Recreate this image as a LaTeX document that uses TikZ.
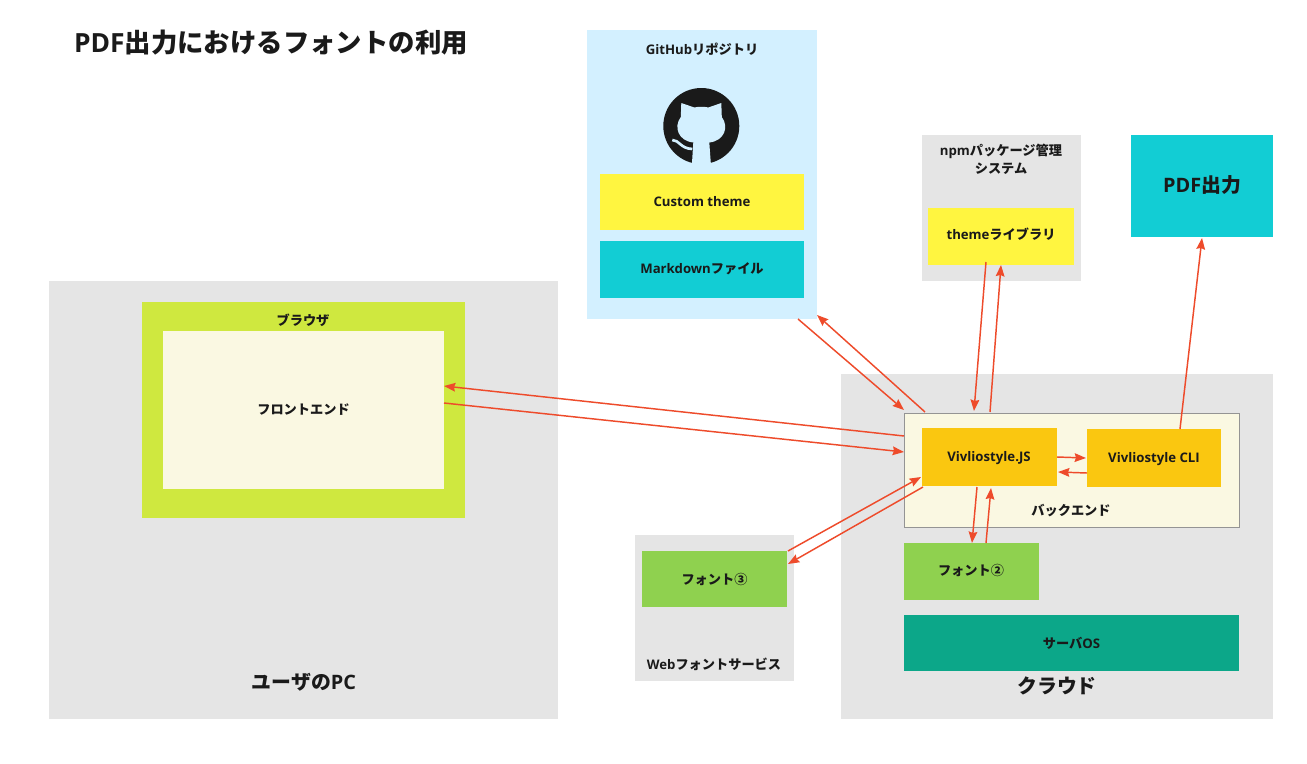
\documentclass[tikz,border=0pt]{standalone}
\usepackage{fontspec}
\usetikzlibrary{calc,arrows.meta}
\setmainfont{Open Sans}[BoldFont={Open Sans Bold}]
\newfontfamily\jp{Noto Sans CJK JP Bold}
\definecolor{panelgray}{HTML}{E5E5E5}
\definecolor{skyblue}{HTML}{D3F0FF}
\definecolor{sunyellow}{HTML}{FFF540}
\definecolor{teal1}{HTML}{12CDD4}
\definecolor{lime1}{HTML}{CFE83F}
\definecolor{cream}{HTML}{FAF8E2}
\definecolor{amber}{HTML}{FAC710}
\definecolor{leaf}{HTML}{8FD14F}
\definecolor{seagreen}{HTML}{0CA789}
\definecolor{ink}{HTML}{1A1A1A}
\definecolor{arrowred}{HTML}{EE4B2B}
\newcommand{\J}[1]{{\jp #1}}
\tikzset{
  x=0.75pt,y=-0.75pt,
  box/.style={draw=none,inner sep=0pt,outer sep=0pt},
  lab/.style={inner sep=0pt,outer sep=0pt,text=ink,font=\bfseries\fontsize{9.9pt}{12pt}\selectfont,align=center},
  big/.style={font=\bfseries\fontsize{14.9pt}{18pt}\selectfont},
  link/.style={draw=arrowred,line width=1.1pt,-{Stealth[length=8.5pt,width=6.5pt,inset=1pt]}},
}
\newcommand{\bx}[7][]{%
  \node[box,fill=#6,minimum width=#4*0.75pt-#2*0.75pt,minimum height=#5*0.75pt-#3*0.75pt,anchor=north west,#1] (#7) at (#2,#3) {};}
\begin{document}
\begin{tikzpicture}
\useasboundingbox (0,0) rectangle (1307,764);
\path[fill=white] (0,0) rectangle (1307,764);
\bx{587}{30}{817}{319}{skyblue}{gh}
\bx{600}{174}{804}{230}{sunyellow}{custom}
\bx{600}{241}{804}{298}{teal1}{md}
\bx{922}{135}{1081}{281}{panelgray}{npm}
\bx{928}{208}{1074}{265}{sunyellow}{theme}
\bx{1131}{135}{1273}{237}{teal1}{pdf}
\bx{49}{281}{558}{719}{panelgray}{pc}
\bx{142}{302}{465}{518}{lime1}{browser}
\bx{163}{331}{444}{489}{cream}{front}
\bx{841}{374}{1273}{719}{panelgray}{cloud}
\bx[draw=black!42,line width=0.75pt]{904}{413}{1239}{527}{cream}{back}
\bx{922}{428}{1057}{486}{amber}{js}
\bx{1087}{429}{1221}{487}{amber}{cli}
\bx{904}{543}{1039}{600}{leaf}{fonttwo}
\bx{904}{615}{1239}{671}{seagreen}{os}
\bx{635}{535}{794}{681}{panelgray}{web}
\bx{642}{551}{787}{607}{leaf}{fontthree}
% texts
\node[lab,anchor=west,font=\bfseries\fontsize{19.8pt}{24pt}\selectfont] (title) at (74,43) {PDF\J{出力における}\J{フォントの利用}};
\node[lab] (ghl) at (702,49) {GitHub\J{リポジトリ}};
\node[lab] at (custom.center) (customl) {Custom theme};
\node[lab] at ($(md.center)+(0,-1)$) (mdl) {Markdown\J{ファイル}};
\node[lab] (npml) at (1001,159.5) {npm\J{パッケージ管理}\\[1.5pt]\J{システム}};
\node[lab] at ($(theme.center)+(0,-2)$) (themel) {theme\J{ライブラリ}};
\node[lab,big] at ($(pdf.center)+(0,-1)$) (pdfl) {PDF\J{出力}};
\node[lab,big] (pcl) at (304,682) {\J{ユーザの}PC};
\node[lab] (brl) at (303,320) {\J{ブラウザ}};
\node[lab] at (front.center) (frl) {\J{フロントエンド}};
\node[lab,big] (cll) at (1057,686) {\J{クラウド}};
\node[lab] (bkl) at (1071,511) {\J{バックエンド}};
\node[lab] (jsl) at (989,458) {Vivliostyle.JS};
\node[lab] (clil) at (1154,459) {Vivliostyle CLI};
\node[lab] (f2l) at (971,570) {\J{フォント②}};
\node[lab] at (os.center) (osl) {\J{サーバ}OS};
\node[lab] (webl) at (714,664) {Web\J{フォントサービス}};
\node[lab] at (fontthree.center) (f3l) {\J{フォント③}};
% logo
\begin{scope}[shift={(701.3,126)}]
\fill[ink] (0,0) circle (38);
\fill[skyblue] (-20,-23) -- (-20.5,-9) .. controls (-28,1) and (-23,15) .. (-8,16.5)
  -- (-9.5,40) -- (9.7,40) -- (8,16.5)
  .. controls (23,15) and (28,1) .. (20.5,-9) -- (20,-23) -- (7,-18.5) .. controls (3,-19.5) and (-3,-19.5) .. (-7,-18.5) -- cycle;
\draw[skyblue,line width=2pt] (-29,14) .. controls (-22,14) and (-21,22.5) .. (-9,23);
\end{scope}
% connectors
\draw[link] ($(gh.south west)+(211,0)$) -- ($(back.north west)+(0,-3)$);
\draw[link] ($(back.north west)+(21,-1)$) -- ($(gh.south east)+(0,-4)$);
\draw[link] ($(theme.south west)+(58,-3)$) -- ($(back.north west)+(70,-2)$);
\draw[link] ($(back.north west)+(86,-1)$) -- ($(theme.south west)+(73,0)$);
\draw[link] ($(cli.north west)+(93,0)$) -- ($(pdf.south west)+(71,1)$);
\draw[link] ($(back.north west)+(0,23)$) -- ($(front.north east)+(0,55)$);
\draw[link] ($(front.north east)+(0,72)$) -- ($(back.north west)+(0,39)$);
\draw[link] ($(js.north east)+(0,29)$) -- ($(cli.north west)+(-1,29)$);
\draw[link] ($(cli.north west)+(0,44)$) -- ($(js.north east)+(1,44)$);
\draw[link] ($(fontthree.north east)+(1,0)$) -- ($(js.north west)+(-1,49)$);
\draw[link] ($(js.south west)+(1,1)$) -- ($(fontthree.north east)+(1,13)$);
\draw[link] ($(js.south west)+(55,1)$) -- ($(fonttwo.north west)+(68,0)$);
\draw[link] ($(fonttwo.north west)+(82,0)$) -- ($(js.south west)+(69,2)$);
\end{tikzpicture}
\end{document}
